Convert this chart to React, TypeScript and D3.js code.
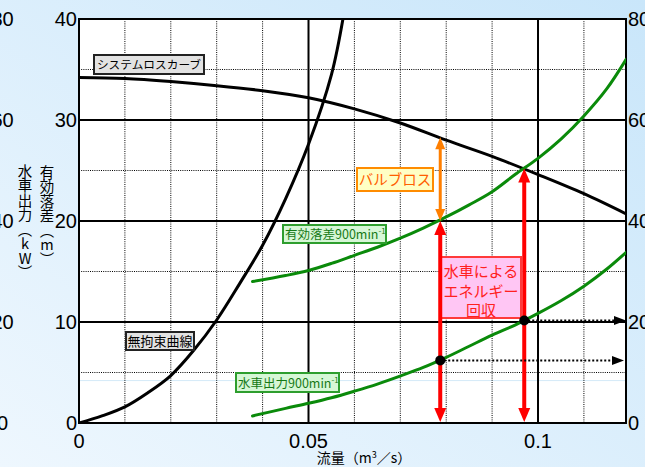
import React from "react";
import * as d3 from "d3";

// ---- data ----
const sysQ = [0, 0.01, 0.02, 0.03, 0.04, 0.05, 0.06, 0.07, 0.08, 0.09, 0.1, 0.11, 0.1192];
const sysHead = [34.2, 34.1, 33.8, 33.4, 32.9, 32.2, 31.1, 29.7, 28.0, 26.4, 24.6, 22.7, 20.7];

const freeQ = [0, 0.005, 0.01, 0.015, 0.02, 0.025, 0.03, 0.035, 0.04, 0.045, 0.05, 0.055, 0.0575];
const freeHead = [0, 0.7, 1.6, 3.0, 4.7, 7.2, 10.2, 13.8, 17.6, 22.2, 27.6, 34.5, 40];

const headQ = [0.0378, 0.045, 0.05, 0.055, 0.06, 0.065, 0.07, 0.075, 0.08, 0.085, 0.09, 0.095, 0.1, 0.105, 0.11, 0.115, 0.1192];
const headM = [14.0, 14.6, 15.1, 15.8, 16.6, 17.4, 18.3, 19.3, 20.4, 21.6, 22.9, 24.6, 26.2, 28.1, 30.4, 33.1, 36.0];

const powerQ = [0.0378, 0.045, 0.05, 0.055, 0.06, 0.065, 0.07, 0.075, 0.08, 0.085, 0.09, 0.095, 0.1, 0.105, 0.11, 0.115, 0.1192];
const powerKW = [1.4, 2.9, 3.9, 5.0, 6.3, 7.7, 9.3, 11.0, 13.0, 15.2, 17.4, 19.4, 21.7, 24.2, 27.1, 30.5, 33.8];

// operating points: valve control vs turbine
const opQ = [0.0787, 0.097];
const opHead = [20.0, 25.2];
const opKW = [12.4, 20.3];
const valveTopHead = 28.3;

const xTicks = [0, 0.05, 0.1];
const xTickLabels = ["0", "0.05", "0.1"];
const xMinor = [0.01, 0.02, 0.03, 0.04, 0.06, 0.07, 0.08, 0.09, 0.11];
const headTicks = [0, 10, 20, 30, 40];
const headMinor = [5, 15, 25, 35];
const kwTicks = [0, 20, 40, 60, 80];
const faintLineHead = 4.2;

const W = 645;
const H = 467;
const L = 79, R = 626, T = 19, B = 423;

const JP = "'Noto Sans CJK JP', 'Noto Sans', sans-serif";
const NUM = "'Liberation Sans', Arial, sans-serif";

export default function App() {
  const x = d3.scaleLinear().domain([0, 0.11917]).range([L, R]);
  const yH = d3.scaleLinear().domain([0, 40]).range([B, T]);
  const yP = d3.scaleLinear().domain([0, 80]).range([B, T]);

  const curve = d3.curveCatmullRom.alpha(0.5);
  const lineH = (qs: number[], hs: number[]) =>
    d3.line<number>().x((_, i) => x(qs[i])).y((d) => yH(d)).curve(curve)(hs) || "";
  const lineP = (qs: number[], ps: number[]) =>
    d3.line<number>().x((_, i) => x(qs[i])).y((d) => yP(d)).curve(curve)(ps) || "";

  const head = (cx: number, tipY: number, dir: number, w: number, h: number) =>
    `M${cx},${tipY} L${cx - w / 2},${tipY + dir * h} L${cx + w / 2},${tipY + dir * h} Z`;
  const headRight = (tipX: number, cy: number, w: number, h: number) =>
    `M${tipX},${cy} L${tipX - h},${cy - w / 2} L${tipX - h},${cy + w / 2} Z`;

  const redW = 12, redH = 14;

  return (
    <svg width={W} height={H} style={{ position: "absolute", left: 0, top: 0, display: "block" }}>
      <defs>
        <linearGradient id="bg" x1="0" y1="1" x2="1" y2="0">
          <stop offset="0" stopColor="#eef7fe" />
          <stop offset="1" stopColor="#c9e6fa" />
        </linearGradient>
        <clipPath id="plot">
          <rect x={L} y={T} width={R - L} height={B - T} />
        </clipPath>
      </defs>
      <rect x={0} y={0} width={W} height={H} fill="url(#bg)" />
      <rect x={L} y={T} width={R - L} height={B - T} fill="#ffffff" />
      <line x1={L} x2={R} y1={yH(faintLineHead)} y2={yH(faintLineHead)} stroke="#d4eaf8" strokeWidth={1} />

      {/* grid */}
      {xMinor.map((q) => (
        <line key={"xm" + q} x1={x(q)} x2={x(q)} y1={T} y2={B} stroke="#000" strokeWidth={1} strokeDasharray="1,1.2" />
      ))}
      {headMinor.map((h) => (
        <line key={"hm" + h} x1={L} x2={R} y1={yH(h)} y2={yH(h)} stroke="#000" strokeWidth={1} strokeDasharray="1,1.2" />
      ))}
      {xTicks.slice(1).map((q) => (
        <line key={"xM" + q} x1={x(q)} x2={x(q)} y1={T} y2={B} stroke="#000" strokeWidth={2} />
      ))}
      {headTicks.slice(1, -1).map((h) => (
        <line key={"hM" + h} x1={L} x2={R} y1={yH(h)} y2={yH(h)} stroke="#000" strokeWidth={2} />
      ))}
      <rect x={L} y={T} width={R - L} height={B - T} fill="none" stroke="#000" strokeWidth={2} />

      {/* curves */}
      <g clipPath="url(#plot)" fill="none" strokeLinecap="round">
        <path d={lineH(sysQ, sysHead)} stroke="#000" strokeWidth={3} />
        <path d={lineH(freeQ, freeHead)} stroke="#000" strokeWidth={3} />
        <path d={lineH(headQ, headM)} stroke="#0a8a0a" strokeWidth={3} />
        <path d={lineP(powerQ, powerKW)} stroke="#0a8a0a" strokeWidth={3} />
      </g>

      {/* tick labels */}
      {headTicks.map((h) => (
        <text key={"lt" + h} x={L - 2} y={yH(h)} dy="0.36em" textAnchor="end" fontFamily={NUM} fontSize={20}>
          {h}
        </text>
      ))}
      {kwTicks.map((p) => (
        <text key={"lo" + p} x={2.5} y={yP(p)} dy="0.36em" textAnchor="middle" fontFamily={NUM} fontSize={20}>
          {p}
        </text>
      ))}
      {kwTicks.map((p) => (
        <text key={"rt" + p} x={R + 2} y={yP(p)} dy="0.36em" textAnchor="start" fontFamily={NUM} fontSize={20}>
          {p}
        </text>
      ))}
      {xTicks.map((q, i) => (
        <text key={"xt" + q} x={x(q)} y={448} textAnchor="middle" fontFamily={NUM} fontSize={20}>
          {xTickLabels[i]}
        </text>
      ))}

      {/* axis titles */}
      <text x={364} y={463} textAnchor="middle" fontFamily={JP} fontSize={14}>
        流量（m<tspan fontSize={9} dy={-5}>3</tspan><tspan dy={5}>／s）</tspan>
      </text>
      <text x={47} y={165} fontFamily={JP} fontSize={14.5}
        style={{ writingMode: "vertical-rl", textOrientation: "upright" } as any}>
        有効落差（m）
      </text>
      <text x={25} y={164} fontFamily={JP} fontSize={14.5}
        style={{ writingMode: "vertical-rl", textOrientation: "upright" } as any}>
        水車出力（kW）
      </text>

      {/* labels */}
      <rect x={94} y={55} width={110} height={19} fill="#e2e2e2" stroke="#222" strokeWidth={2} />
      <text x={149} y={69} textAnchor="middle" fontFamily={JP} fontSize={11.7}>システムロスカーブ</text>

      <rect x={126} y={332} width={68} height={18} fill="#e2e2e2" stroke="#222" strokeWidth={2} />
      <text x={160} y={346} textAnchor="middle" fontFamily={JP} fontSize={13}>無拘束曲線</text>

      <rect x={283} y={225} width={103} height={18} fill="#d6f7d6" stroke="#2e9e2e" strokeWidth={2} />
      <text x={285} y={239} fontFamily={JP} fontSize={12.5} fill="#167a16">
        有効落差900min<tspan fontSize={8} dy={-5}>-1</tspan>
      </text>

      <rect x={236} y={373} width={103} height={19} fill="#d6f7d6" stroke="#2e9e2e" strokeWidth={2} />
      <text x={238} y={388} fontFamily={JP} fontSize={12.5} fill="#167a16">
        水車出力900min<tspan fontSize={8} dy={-5}>-1</tspan>
      </text>

      {/* valve loss arrow */}
      <line x1={x(opQ[0])} x2={x(opQ[0])} y1={yH(valveTopHead) + 10} y2={yH(opHead[0]) - 10} stroke="#ff7f00" strokeWidth={3} />
      <path d={head(x(opQ[0]), yH(valveTopHead), 1, 10, 12)} fill="#ff7f00" />
      <path d={head(x(opQ[0]), yH(opHead[0]), -1, 10, 12)} fill="#ff7f00" />
      <rect x={357} y={168} width={76} height={23} fill="#ffffc4" stroke="#ff8c00" strokeWidth={2} />
      <text x={395} y={185} textAnchor="middle" fontFamily={JP} fontSize={14.5} fill="#ff6000">バルブロス</text>

      {/* energy recovery box */}
      <rect x={441} y={257} width={80} height={61} fill="#ffc6f4" stroke="#ff3a3a" strokeWidth={2} />
      <text textAnchor="middle" fontFamily={JP} fontSize={15} fill="#ff2020">
        <tspan x={481} y={277}>水車による</tspan>
        <tspan x={481} y={297}>エネルギー</tspan>
        <tspan x={481} y={316}>回収</tspan>
      </text>

      {/* red arrows */}
      {opQ.map((q, i) => (
        <g key={"red" + i} fill="#ff0000">
          <line x1={x(q)} x2={x(q)} y1={yH(opHead[i]) + redH - 2} y2={yH(0) - redH + 2} stroke="#ff0000" strokeWidth={4} />
          <path d={head(x(q), yH(opHead[i]), 1, redW, redH)} />
          <path d={head(x(q), yH(0) - 1, -1, redW, redH)} />
        </g>
      ))}

      {/* power dotted arrows */}
      {opQ.map((q, i) => (
        <g key={"pa" + i}>
          <line x1={x(q)} x2={R - 10} y1={yP(opKW[i])} y2={yP(opKW[i])} stroke="#000" strokeWidth={2} strokeDasharray="2,2" />
          <path d={headRight(R - (i === 0 ? 2 : 0), yP(opKW[i]), 9, 12)} fill="#000" />
          <circle cx={x(q)} cy={yP(opKW[i])} r={5} fill="#000" />
        </g>
      ))}
    </svg>
  );
}
